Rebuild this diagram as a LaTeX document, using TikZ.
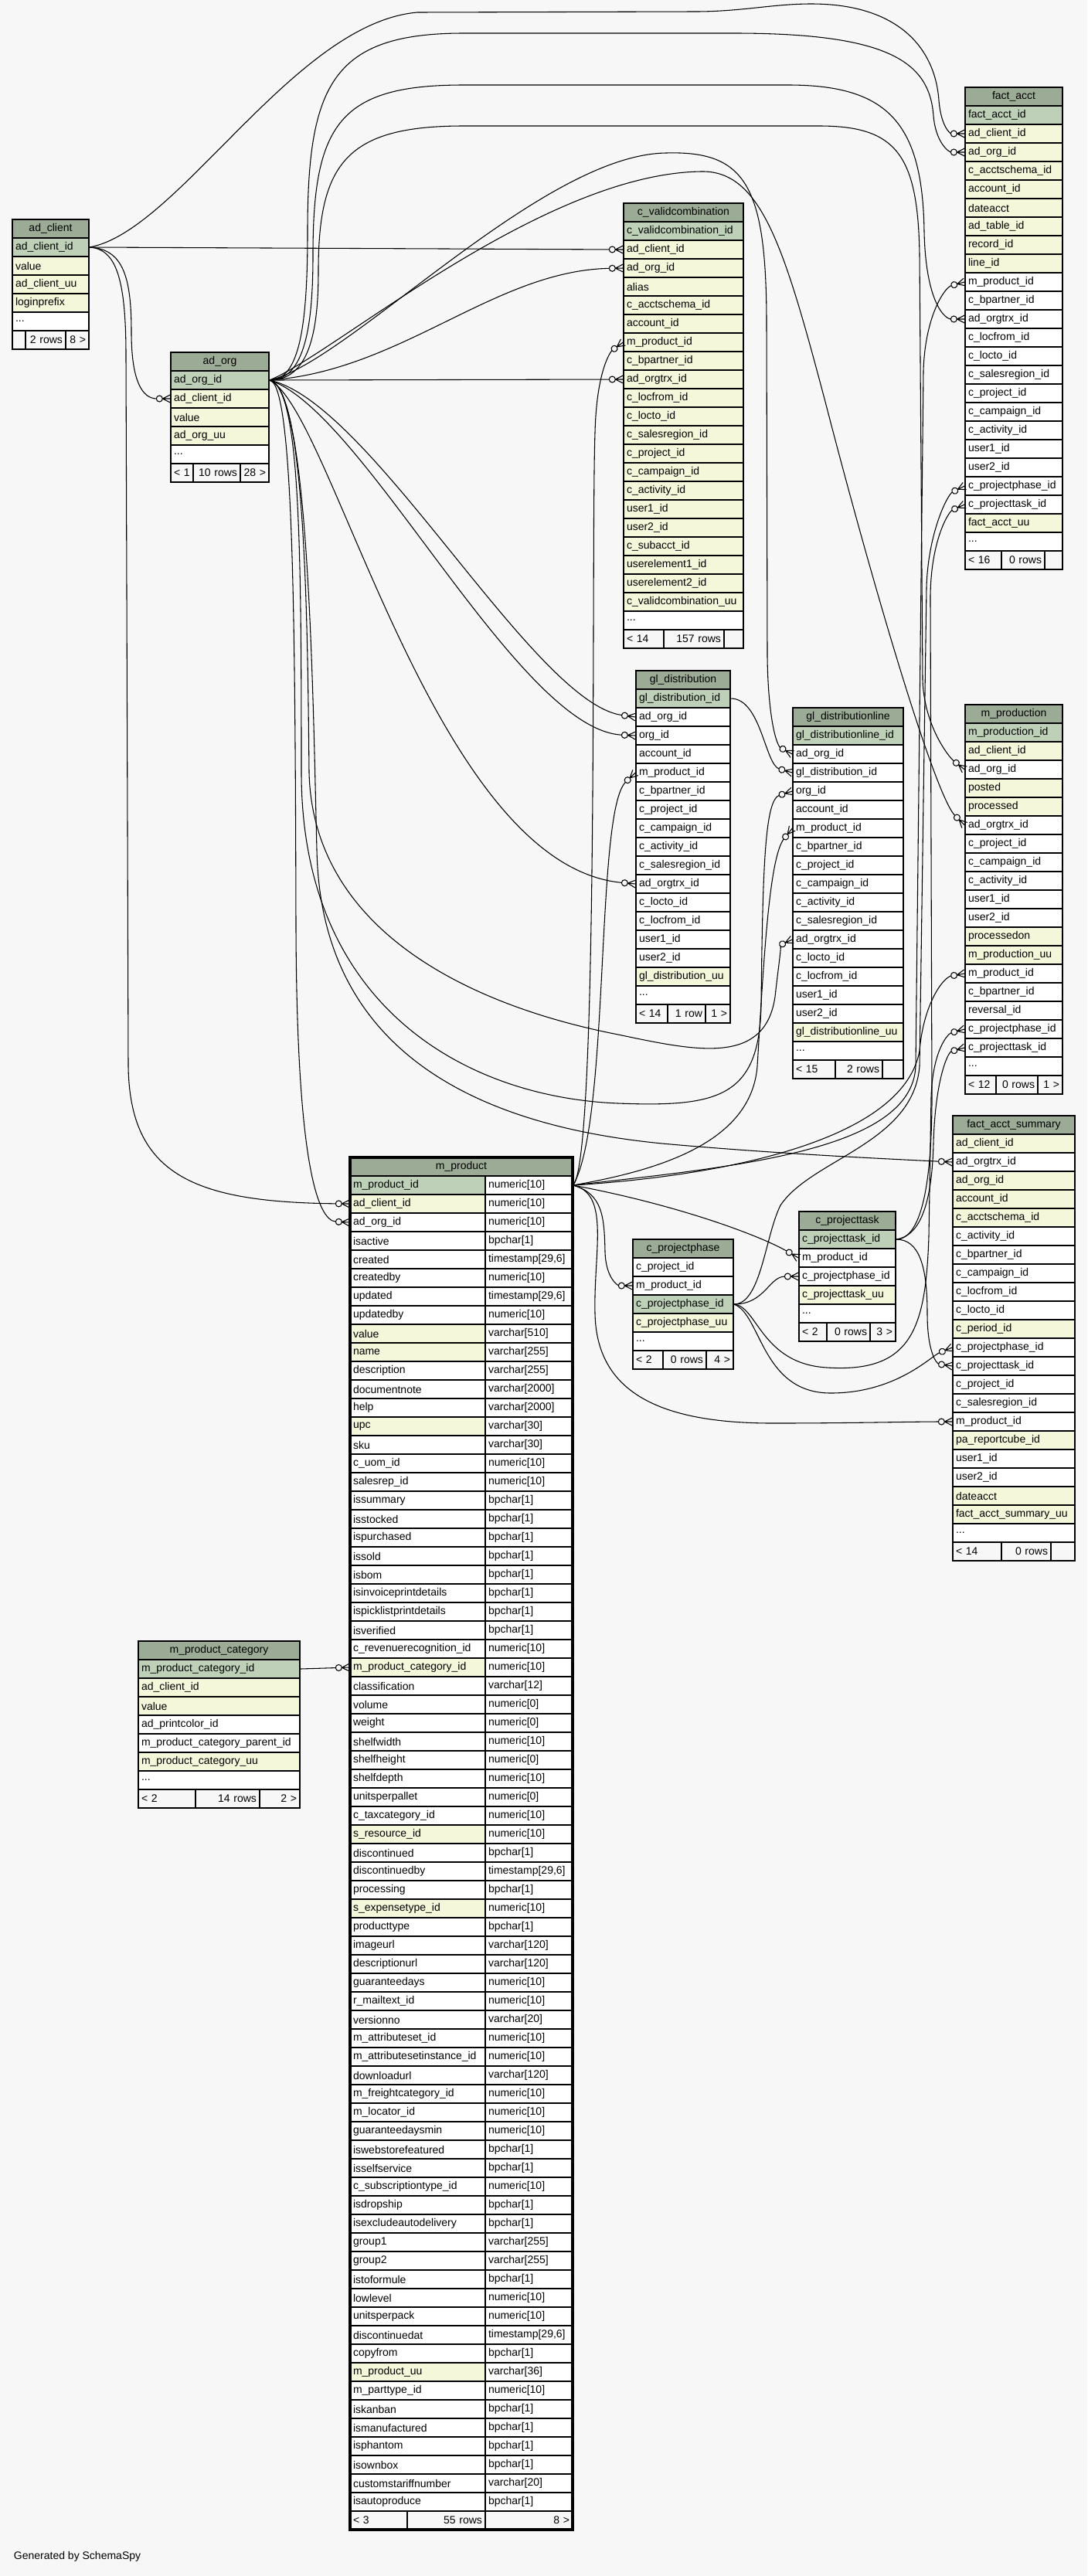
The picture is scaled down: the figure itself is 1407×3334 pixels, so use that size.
\documentclass[tikz,border=0pt]{standalone}
\usepackage{fontspec}
\setmainfont{Liberation Sans}

\definecolor{bgc}{HTML}{F7F7F7}
\definecolor{hdc}{HTML}{9BAB96}
\definecolor{pkc}{HTML}{BED1B8}
\definecolor{ixc}{HTML}{F4F7DA}

% crow's foot with open circle, tip at the table edge
\pgfdeclarearrow{
  name = crowodot,
  setup code = {
    \pgfarrowssettipend{0pt}
    \pgfarrowssetlineend{-13pt}
    \pgfarrowssetvisualbackend{-13.5pt}
    \pgfarrowssetbackend{-13.5pt}
    \pgfarrowshullpoint{0pt}{3.75pt}
    \pgfarrowshullpoint{0pt}{-3.75pt}
    \pgfarrowshullpoint{-13.5pt}{0pt}
  },
  drawing code = {
    \pgfsetdash{}{0pt}
    \pgfpathmoveto{\pgfqpoint{0pt}{3.75pt}}
    \pgfpathlineto{\pgfqpoint{-7.5pt}{0pt}}
    \pgfpathlineto{\pgfqpoint{0pt}{-3.75pt}}
    \pgfpathmoveto{\pgfqpoint{-7.5pt}{0pt}}
    \pgfpathlineto{\pgfqpoint{0pt}{0pt}}
    \pgfusepathqstroke
    \pgfpathcircle{\pgfqpoint{-10.5pt}{0pt}}{3pt}
    \pgfsetfillcolor{bgc}
    \pgfusepathqfillstroke
  }
}

\tikzset{every picture/.style={line width=0.75pt}}
\tikzset{
  cell/.style={draw, line width=1pt, inner xsep=3pt, inner ysep=0pt, minimum height=18pt, font=\fontsize{10.5}{12}\selectfont},
  hd/.style={cell, fill=hdc, align=center},
  col/.style={cell, fill=#1, align=left},
  fcell/.style={cell, fill=bgc, align=#1},
  rel/.style={line width=0.8pt, -crowodot}
}

% table: name, left, top, right, columns name/fill
\newcommand{\dbtab}[5]{%
  \def\tabN{#1}\def\tabL{#2}\def\tabT{#3}\def\tabR{#4}\def\fsh{1}%
  \pgfmathsetmacro\tabW{(#4-#2-8)*0.75}%
  \node[hd, text width=\tabW pt] (#1) at ({(#2+#4)/2},#3+12) {#1};
  \foreach \cn/\fl [count=\rw] in {#5}{
    \node[col=\fl, text width=\tabW pt] (#1-\cn) at ({(#2+#4)/2},#3+12+24*\rw) {\cn};
    \xdef\nrows{\rw}
  }
  \node[col=white, text width=\tabW pt] (#1-more) at ({(#2+#4)/2},#3+36+24*\nrows) {...};
}
% table with types: name, left, top, middle, right, columns name/type/fill
\newcommand{\dbtabtwo}[6]{%
  \def\tabN{#1}\def\tabL{#2}\def\tabT{#3}\def\tabR{#5}\def\fsh{0}%
  \pgfmathsetmacro\tabW{(#5-#2-8)*0.75}%
  \pgfmathsetmacro\tabWa{(#4-#2-8)*0.75}%
  \pgfmathsetmacro\tabWb{(#5-#4-8)*0.75}%
  \node[hd, text width=\tabW pt] (#1) at ({(#2+#5)/2},#3+12) {#1};
  \foreach \cn/\ty/\fl [count=\rw] in {#6}{
    \node[col=\fl, text width=\tabWa pt] (#1-\cn) at ({(#2+#4)/2},#3+12+24*\rw) {\cn};
    \node[col=white, text width=\tabWb pt] (#1-\cn-type) at ({(#4+#5)/2},#3+12+24*\rw) {\ty};
    \xdef\nrows{\rw}
  }
}
% footer of the last table: [outline], split 1, split 2, three texts
\newcommand{\dbfoot}[6][1.5pt]{%
  \pgfmathsetmacro\fty{\tabT+36+24*(\nrows+\fsh)}%
  \pgfmathsetmacro\ftwa{(#2-\tabL-8)*0.75}%
  \pgfmathsetmacro\ftwb{(#3-#2-8)*0.75}%
  \pgfmathsetmacro\ftwc{(\tabR-#3-8)*0.75}%
  \node[fcell=left, text width=\ftwa pt] (\tabN-fa) at ({(\tabL+#2)/2},\fty) {#4};
  \node[fcell=right, text width=\ftwb pt] (\tabN-fb) at ({(#2+#3)/2},\fty) {#5};
  \node[fcell=right, text width=\ftwc pt] (\tabN-fc) at ({(#3+\tabR)/2},\fty) {#6};
  \draw[line width=#1] (\tabL,\tabT) rectangle (\tabR,\fty+12);
}

\begin{document}
\catcode`\_=12
\begin{tikzpicture}[x=0.75pt,y=0.75pt,yscale=-1,xscale=1]
\path[use as bounding box, fill=bgc] (0,0) rectangle (1407,3334);

%Table: ad_client
\dbtab{ad_client}{16}{284}{115}{ad_client_id/pkc, value/ixc, ad_client_uu/ixc, loginprefix/ixc}
\dbfoot{33}{85}{}{2 rows}{8 >}
%Table: ad_org
\dbtab{ad_org}{221}{456}{348}{ad_org_id/pkc, ad_client_id/ixc, value/ixc, ad_org_uu/ixc}
\dbfoot{250}{311}{< 1}{10 rows}{28 >}
%Table: c_validcombination
\dbtab{c_validcombination}{807}{263}{962}{c_validcombination_id/pkc, ad_client_id/ixc, ad_org_id/ixc, alias/ixc, c_acctschema_id/ixc, account_id/ixc, m_product_id/ixc, c_bpartner_id/ixc, ad_orgtrx_id/ixc, c_locfrom_id/ixc, c_locto_id/ixc, c_salesregion_id/ixc, c_project_id/ixc, c_campaign_id/ixc, c_activity_id/ixc, user1_id/ixc, user2_id/ixc, c_subacct_id/ixc, userelement1_id/ixc, userelement2_id/ixc, c_validcombination_uu/ixc}
\dbfoot{859}{937}{< 14}{157 rows}{}
%Table: fact_acct
\dbtab{fact_acct}{1249}{113}{1375}{fact_acct_id/pkc, ad_client_id/ixc, ad_org_id/ixc, c_acctschema_id/ixc, account_id/ixc, dateacct/ixc, ad_table_id/ixc, record_id/ixc, line_id/ixc, m_product_id/white, c_bpartner_id/white, ad_orgtrx_id/white, c_locfrom_id/white, c_locto_id/white, c_salesregion_id/white, c_project_id/white, c_campaign_id/white, c_activity_id/white, user1_id/white, user2_id/white, c_projectphase_id/white, c_projecttask_id/white, fact_acct_uu/ixc}
\dbfoot{1296}{1352}{< 16}{0 rows}{}
%Table: gl_distribution
\dbtab{gl_distribution}{823}{868}{945}{gl_distribution_id/pkc, ad_org_id/white, org_id/white, account_id/white, m_product_id/white, c_bpartner_id/white, c_project_id/white, c_campaign_id/white, c_activity_id/white, c_salesregion_id/white, ad_orgtrx_id/white, c_locto_id/white, c_locfrom_id/white, user1_id/white, user2_id/white, gl_distribution_uu/ixc}
\dbfoot{864}{913}{< 14}{1 row}{1 >}
%Table: gl_distributionline
\dbtab{gl_distributionline}{1026}{916}{1169}{gl_distributionline_id/pkc, ad_org_id/white, gl_distribution_id/white, org_id/white, account_id/white, m_product_id/white, c_bpartner_id/white, c_project_id/white, c_campaign_id/white, c_activity_id/white, c_salesregion_id/white, ad_orgtrx_id/white, c_locto_id/white, c_locfrom_id/white, user1_id/white, user2_id/white, gl_distributionline_uu/ixc}
\dbfoot{1081}{1142}{< 15}{2 rows}{}
%Table: m_production
\dbtab{m_production}{1249}{912}{1375}{m_production_id/pkc, ad_client_id/ixc, ad_org_id/white, posted/ixc, processed/ixc, ad_orgtrx_id/white, c_project_id/white, c_campaign_id/white, c_activity_id/white, user1_id/white, user2_id/white, processedon/ixc, m_production_uu/ixc, m_product_id/white, c_bpartner_id/white, reversal_id/white, c_projectphase_id/white, c_projecttask_id/white}
\dbfoot{1289}{1343}{< 12}{0 rows}{1 >}
%Table: fact_acct_summary
\dbtab{fact_acct_summary}{1233}{1444}{1391}{ad_client_id/ixc, ad_orgtrx_id/white, ad_org_id/ixc, account_id/ixc, c_acctschema_id/ixc, c_activity_id/white, c_bpartner_id/white, c_campaign_id/white, c_locfrom_id/white, c_locto_id/white, c_period_id/ixc, c_projectphase_id/white, c_projecttask_id/white, c_project_id/white, c_salesregion_id/white, m_product_id/white, pa_reportcube_id/ixc, user1_id/white, user2_id/white, dateacct/ixc, fact_acct_summary_uu/ixc}
\dbfoot{1296}{1360}{< 14}{0 rows}{}
%Table: m_product_category
\dbtab{m_product_category}{179}{2124}{388}{m_product_category_id/pkc, ad_client_id/ixc, value/ixc, ad_printcolor_id/white, m_product_category_parent_id/white, m_product_category_uu/ixc}
\dbfoot{253}{336}{< 2}{14 rows}{2 >}
%Table: c_projectphase
\dbtab{c_projectphase}{819}{1604}{949}{c_project_id/white, m_product_id/white, c_projectphase_id/pkc, c_projectphase_uu/ixc}
\dbfoot{858}{914}{< 2}{0 rows}{4 >}
%Table: c_projecttask
\dbtab{c_projecttask}{1034}{1568}{1159}{c_projecttask_id/pkc, m_product_id/white, c_projectphase_id/white, c_projecttask_uu/ixc}
\dbfoot{1070}{1126}{< 2}{0 rows}{3 >}
%Table: m_product
\dbtabtwo{m_product}{453}{1498}{628}{741}{m_product_id/numeric[10]/pkc, ad_client_id/numeric[10]/ixc, ad_org_id/numeric[10]/white, isactive/bpchar[1]/white, created/{timestamp[29,6]}/white, createdby/numeric[10]/white, updated/{timestamp[29,6]}/white, updatedby/numeric[10]/white, value/varchar[510]/ixc, name/varchar[255]/ixc, description/varchar[255]/white, documentnote/varchar[2000]/white, help/varchar[2000]/white, upc/varchar[30]/ixc, sku/varchar[30]/white, c_uom_id/numeric[10]/white, salesrep_id/numeric[10]/white, issummary/bpchar[1]/white, isstocked/bpchar[1]/white, ispurchased/bpchar[1]/white, issold/bpchar[1]/white, isbom/bpchar[1]/white, isinvoiceprintdetails/bpchar[1]/white, ispicklistprintdetails/bpchar[1]/white, isverified/bpchar[1]/white, c_revenuerecognition_id/numeric[10]/white, m_product_category_id/numeric[10]/ixc, classification/varchar[12]/white, volume/numeric[0]/white, weight/numeric[0]/white, shelfwidth/numeric[10]/white, shelfheight/numeric[0]/white, shelfdepth/numeric[10]/white, unitsperpallet/numeric[0]/white, c_taxcategory_id/numeric[10]/white, s_resource_id/numeric[10]/ixc, discontinued/bpchar[1]/white, discontinuedby/{timestamp[29,6]}/white, processing/bpchar[1]/white, s_expensetype_id/numeric[10]/ixc, producttype/bpchar[1]/white, imageurl/varchar[120]/white, descriptionurl/varchar[120]/white, guaranteedays/numeric[10]/white, r_mailtext_id/numeric[10]/white, versionno/varchar[20]/white, m_attributeset_id/numeric[10]/white, m_attributesetinstance_id/numeric[10]/white, downloadurl/varchar[120]/white, m_freightcategory_id/numeric[10]/white, m_locator_id/numeric[10]/white, guaranteedaysmin/numeric[10]/white, iswebstorefeatured/bpchar[1]/white, isselfservice/bpchar[1]/white, c_subscriptiontype_id/numeric[10]/white, isdropship/bpchar[1]/white, isexcludeautodelivery/bpchar[1]/white, group1/varchar[255]/white, group2/varchar[255]/white, istoformule/bpchar[1]/white, lowlevel/numeric[10]/white, unitsperpack/numeric[10]/white, discontinuedat/{timestamp[29,6]}/white, copyfrom/bpchar[1]/white, m_product_uu/varchar[36]/ixc, m_parttype_id/numeric[10]/white, iskanban/bpchar[1]/white, ismanufactured/bpchar[1]/white, isphantom/bpchar[1]/white, isownbox/bpchar[1]/white, customstariffnumber/varchar[20]/white, isautoproduce/bpchar[1]/white}
\dbfoot[2.6pt]{527}{628}{< 3}{55 rows}{8 >}

% Text Node
\node[anchor=west, font=\fontsize{10.5}{12}\selectfont] (credit) at (13,3309) {Generated by SchemaSpy};

%Curve Lines: from ad_client
\draw[rel] (ad_client-ad_client_id.east) .. controls (230,300) and (380,30) .. (540,16) -- (900,15) .. controls (960,15) and (1000,5) .. (1050,5) .. controls (1160,5) and (1210,60) .. (1215,130) .. controls (1218,165) and (1230,173) .. (fact_acct-ad_client_id.west);
\draw[rel] (ad_client-ad_client_id.east) -- (c_validcombination-ad_client_id.west);
\draw[rel] (ad_client-ad_client_id.east) .. controls (160,322) and (170,360) .. (170,430) .. controls (170,495) and (185,516) .. (ad_org-ad_client_id.west);
\draw[rel] (ad_client-ad_client_id.east) .. controls (150,322) and (163,360) .. (163,460) -- (166,1380) .. controls (168,1520) and (250,1556) .. (m_product-ad_client_id.west);

%Curve Lines: from ad_org
\draw[rel] (ad_org-ad_org_id.east) .. controls (520,480) and (640,350) .. (c_validcombination-ad_org_id.west);
\draw[rel] (ad_org-ad_org_id.east) -- (c_validcombination-ad_orgtrx_id.west);
\draw[rel] (ad_org-ad_org_id.east) .. controls (388,492) and (398,420) .. (398,300) .. controls (398,110) and (430,43) .. (600,43) -- (950,43) .. controls (1150,43) and (1203,80) .. (1208,150) .. controls (1211,185) and (1228,197) .. (fact_acct-ad_org_id.west);
\draw[rel] (ad_org-ad_org_id.east) .. controls (395,492) and (405,420) .. (405,330) .. controls (405,160) and (440,110) .. (600,110) -- (1020,110) .. controls (1150,110) and (1194,160) .. (1196,300) .. controls (1198,390) and (1222,413) .. (fact_acct-ad_orgtrx_id.west);
\draw[rel] (ad_org-ad_org_id.east) .. controls (400,492) and (412,430) .. (412,350) .. controls (412,210) and (450,163) .. (600,163) -- (1060,163) .. controls (1160,163) and (1188,200) .. (1190,330) -- (1194,880) .. controls (1196,940) and (1228,980) .. (m_production-ad_org_id.west);
\draw[rel] (ad_org-ad_org_id.east) .. controls (450,470) and (700,200) .. (862,198) .. controls (965,195) and (992,240) .. (992,420) -- (993,850) .. controls (994,930) and (1005,965) .. (gl_distributionline-ad_org_id.west);
\draw[rel] (ad_org-ad_org_id.east) .. controls (430,460) and (700,225) .. (907,222) .. controls (985,220) and (1015,320) .. (1068,520) .. controls (1130,760) and (1210,1030) .. (m_production-ad_orgtrx_id.west);
\draw[rel] (ad_org-ad_org_id.east) .. controls (480,520) and (690,910) .. (gl_distribution-ad_org_id.west);
\draw[rel] (ad_org-ad_org_id.east) .. controls (470,530) and (670,945) .. (gl_distribution-org_id.west);
\draw[rel] (ad_org-ad_org_id.east) .. controls (430,530) and (560,1120) .. (gl_distribution-ad_orgtrx_id.west);
\draw[rel] (ad_org-ad_org_id.east) .. controls (388,500) and (390,700) .. (390,1000) .. controls (390,1300) and (600,1420) .. (800,1428) .. controls (930,1433) and (983,1420) .. (985,1300) .. controls (987,1120) and (990,1035) .. (gl_distributionline-org_id.west);
\draw[rel] (ad_org-ad_org_id.east) .. controls (395,500) and (398,800) .. (400,1000) .. controls (405,1200) and (600,1300) .. (800,1339) .. controls (900,1360) and (990,1380) .. (1003,1290) .. controls (1008,1245) and (1012,1222) .. (gl_distributionline-ad_orgtrx_id.west);
\draw[rel] (ad_org-ad_org_id.east) .. controls (400,500) and (405,900) .. (410,1100) .. controls (415,1350) and (600,1455) .. (857,1480) .. controls (1000,1493) and (1150,1500) .. (fact_acct_summary-ad_orgtrx_id.west);
\draw[rel] (ad_org-ad_org_id.east) .. controls (380,495) and (382,800) .. (383,1200) .. controls (384,1500) and (410,1580) .. (m_product-ad_org_id.west);

%Curve Lines: from m_product
\draw[rel] (m_product-m_product_id-type.east) .. controls (775,1500) and (765,700) .. (770,560) .. controls (772,480) and (790,455) .. (c_validcombination-m_product_id.west);
\draw[rel] (m_product-m_product_id-type.east) .. controls (790,1450) and (770,1050) .. (gl_distribution-m_product_id.west);
\draw[rel] (m_product-m_product_id-type.east) .. controls (850,1515) and (972,1480) .. (980,1380) .. controls (988,1250) and (995,1110) .. (gl_distributionline-m_product_id.west);
\draw[rel] (m_product-m_product_id-type.east) .. controls (950,1510) and (1180,1490) .. (1185,1380) -- (1195,480) .. controls (1197,410) and (1222,372) .. (fact_acct-m_product_id.west);
\draw[rel] (m_product-m_product_id-type.east) .. controls (960,1520) and (1170,1470) .. (1190,1360) .. controls (1195,1300) and (1220,1265) .. (m_production-m_product_id.west);
\draw[rel] (m_product-m_product_id-type.east) .. controls (790,1545) and (768,1620) .. (770,1700) .. controls (772,1800) and (850,1842) .. (1000,1842) .. controls (1100,1842) and (1180,1840) .. (fact_acct_summary-m_product_id.west);
\draw[rel] (m_product-m_product_id-type.east) .. controls (880,1560) and (985,1600) .. (c_projecttask-m_product_id.west);
\draw[rel] (m_product-m_product_id-type.east) .. controls (780,1545) and (782,1575) .. (783,1620) .. controls (784,1655) and (800,1664) .. (c_projectphase-m_product_id.west);

%Curve Lines: from c_projectphase
\draw[rel] (c_projectphase-c_projectphase_id.east) .. controls (990,1688) and (995,1652) .. (c_projecttask-c_projectphase_id.west);
\draw[rel] (c_projectphase-c_projectphase_id.east) .. controls (985,1688) and (990,1600) .. (1010,1560) .. controls (1050,1500) and (1182,1480) .. (1190,1380) -- (1199,760) .. controls (1201,690) and (1226,640) .. (fact_acct-c_projectphase_id.west);
\draw[rel] (c_projectphase-c_projectphase_id.east) .. controls (980,1690) and (985,1765) .. (1070,1770) .. controls (1180,1777) and (1198,1720) .. (1202,1600) -- (1205,1420) .. controls (1207,1360) and (1226,1338) .. (m_production-c_projectphase_id.west);
\draw[rel] (c_projectphase-c_projectphase_id.east) .. controls (985,1700) and (985,1803) .. (1075,1803) .. controls (1160,1803) and (1205,1755) .. (fact_acct_summary-c_projectphase_id.west);

%Curve Lines: from c_projecttask
\draw[rel] (c_projecttask-c_projecttask_id.east) .. controls (1195,1604) and (1206,1520) .. (1206,1420) -- (1204,780) .. controls (1203,700) and (1228,662) .. (fact_acct-c_projecttask_id.west);
\draw[rel] (c_projecttask-c_projecttask_id.east) .. controls (1190,1600) and (1206,1560) .. (1208,1480) .. controls (1210,1400) and (1226,1362) .. (m_production-c_projecttask_id.west);
\draw[rel] (c_projecttask-c_projecttask_id.east) .. controls (1190,1604) and (1200,1640) .. (1200,1700) .. controls (1200,1750) and (1212,1765) .. (fact_acct_summary-c_projecttask_id.west);

%Straight Lines and short curves
\draw[rel] (gl_distribution-gl_distribution_id.east) .. controls (985,904) and (990,990) .. (gl_distributionline-gl_distribution_id.west);
\draw[rel] (m_product_category-m_product_category_id.east) -- (m_product-m_product_category_id.west);

\end{tikzpicture}
\end{document}
